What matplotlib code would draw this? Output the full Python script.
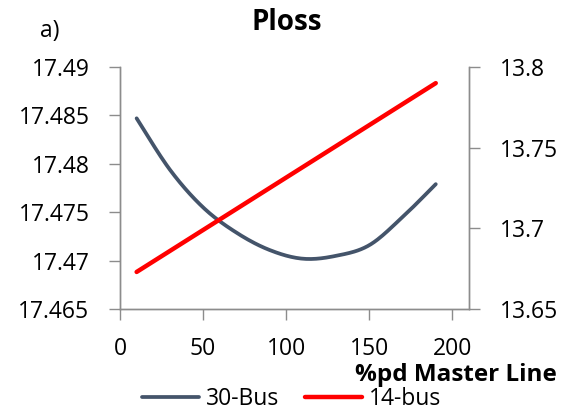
import numpy as np
import matplotlib.pyplot as plt

plt.rcParams['font.family'] = ['Open Sans', 'DejaVu Sans']

pd_master = [10, 30, 50, 70, 90, 110, 130, 150, 170, 190]
ploss_30bus = [17.4847, 17.4794, 17.4755, 17.4729, 17.4711, 17.4702, 17.4705, 17.4716, 17.4745, 17.4779]
ploss_14bus = [13.673, 13.686, 13.699, 13.712, 13.725, 13.738, 13.751, 13.764, 13.777, 13.790]

left_ticks = [17.465, 17.47, 17.475, 17.48, 17.485, 17.49]
right_ticks = [13.65, 13.7, 13.75, 13.8]
x_ticks = [0, 50, 100, 150, 200]

axis_grey = '#8c8c8c'


def smooth_line(x, y, n=20):
    # catmull-rom style smoothing, like a "smoothed line" chart
    x = np.asarray(x, float)
    y = np.asarray(y, float)
    px = np.concatenate([[x[0]], x, [x[-1]]])
    py = np.concatenate([[y[0]], y, [y[-1]]])
    xs, ys = [], []
    t = np.linspace(0, 1, n, endpoint=False)
    for i in range(1, len(px) - 2):
        c1x = px[i] + (px[i + 1] - px[i - 1]) / 6
        c1y = py[i] + (py[i + 1] - py[i - 1]) / 6
        c2x = px[i + 1] - (px[i + 2] - px[i]) / 6
        c2y = py[i + 1] - (py[i + 2] - py[i]) / 6
        b0, b1, b2, b3 = (1 - t) ** 3, 3 * t * (1 - t) ** 2, 3 * t ** 2 * (1 - t), t ** 3
        xs.append(b0 * px[i] + b1 * c1x + b2 * c2x + b3 * px[i + 1])
        ys.append(b0 * py[i] + b1 * c1y + b2 * c2y + b3 * py[i + 1])
    xs.append([x[-1]])
    ys.append([y[-1]])
    return np.concatenate(xs), np.concatenate(ys)


fig = plt.figure(figsize=(5.65, 4.11), dpi=100)
ax = fig.add_axes([0.2124, 0.248, 0.6177, 0.589])
ax2 = ax.twinx()

sx, sy = smooth_line(pd_master, ploss_30bus)
l1, = ax.plot(sx, sy, color='#44546A', lw=2.7, solid_capstyle='round', label='30-Bus')
l2, = ax2.plot(pd_master, ploss_14bus, color='#FF0000', lw=3.2, solid_capstyle='round', label='14-bus')

ax.set_xlim(0, 210)
ax.set_ylim(17.465, 17.49)
ax2.set_ylim(13.65, 13.8)
ax.set_xticks(x_ticks)
ax.set_yticks(left_ticks)
ax.set_yticklabels([('%g' % v) for v in left_ticks])
ax2.set_yticks(right_ticks)
ax2.set_yticklabels([('%g' % v) for v in right_ticks])

for a in (ax, ax2):
    a.spines['top'].set_visible(False)
    for s in ('left', 'right', 'bottom'):
        a.spines[s].set_color(axis_grey)
        a.spines[s].set_linewidth(1.0)
    a.tick_params(colors=axis_grey, labelcolor='black', labelsize=16.5, length=8, width=1.0)
ax.tick_params(axis='y', pad=14)
ax2.tick_params(axis='y', pad=14)
ax.tick_params(axis='x', pad=12)

fig.text(0.507, 0.945, 'Ploss', ha='center', va='center', fontsize=20, fontweight='bold')
fig.text(0.088, 0.925, 'a)', ha='center', va='center', fontsize=16.5)
fig.text(0.985, 0.088, '%pd Master Line', ha='right', va='center', fontsize=17.5, fontweight='bold')

fig.legend(handles=[l1, l2], loc='center', bbox_to_anchor=(0.516, 0.03), ncol=2, frameon=False,
           fontsize=16.5, handlelength=2.5, handletextpad=0.3, columnspacing=1.1, borderaxespad=0)

fig.savefig('out.png', dpi=100)
